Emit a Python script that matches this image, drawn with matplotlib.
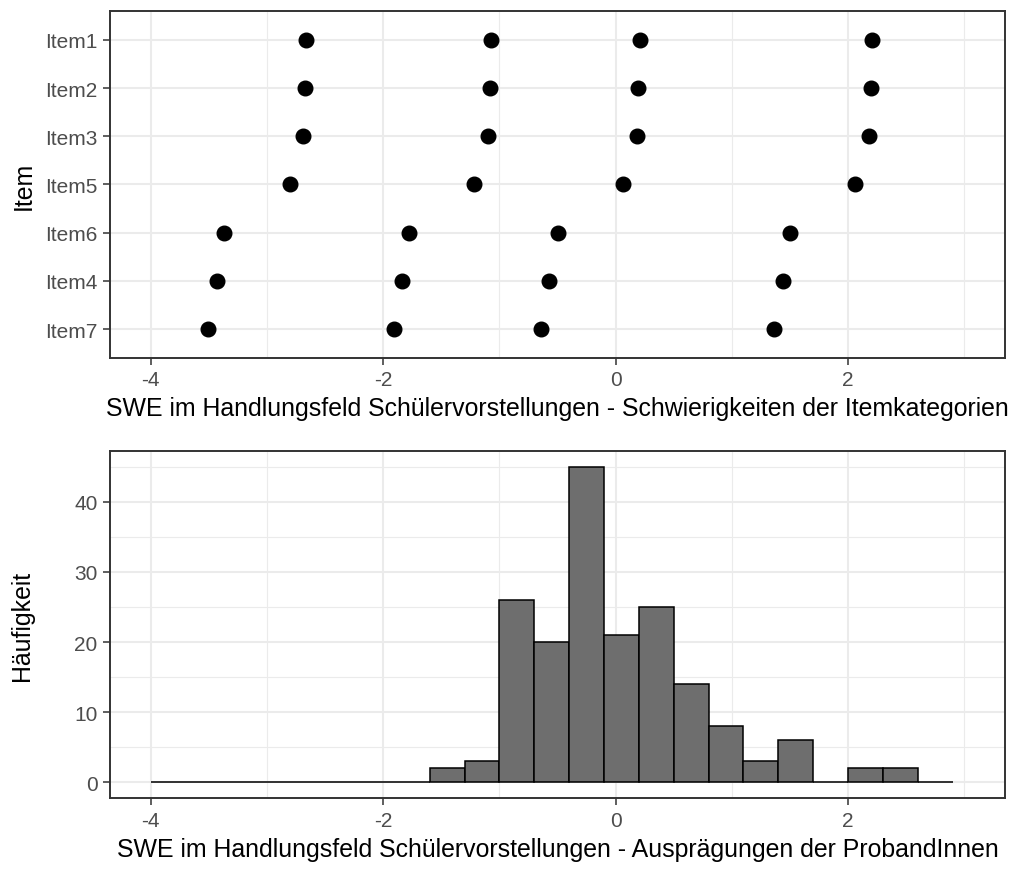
import numpy as np
import matplotlib
matplotlib.use("Agg")
import matplotlib.pyplot as plt

plt.rcParams['font.family'] = ['Liberation Sans', 'DejaVu Sans']

# Schwierigkeiten der Itemkategorien (Schwellen 1-4), von oben nach unten
items = ["Item1", "Item2", "Item3", "Item5", "Item6", "Item4", "Item7"]
thr1 = [-2.66, -2.67, -2.69, -2.80, -3.37, -3.43, -3.51]
thr2 = [-1.07, -1.08, -1.10, -1.22, -1.78, -1.84, -1.91]
thr3 = [0.21, 0.19, 0.18, 0.06, -0.50, -0.57, -0.64]
thr4 = [2.21, 2.20, 2.18, 2.06, 1.50, 1.44, 1.36]

# Histogramm der Personenparameter (Binbreite 0.3, ab -4)
bin_left = [-4.0, -3.7, -3.4, -3.1, -2.8, -2.5, -2.2, -1.9, -1.6, -1.3, -1.0, -0.7,
            -0.4, -0.1, 0.2, 0.5, 0.8, 1.1, 1.4, 1.7, 2.0, 2.3, 2.6]
counts = [0, 0, 0, 0, 0, 0, 0, 0, 2, 3, 26, 20, 45, 21, 25, 14, 8, 3, 6, 0, 2, 2, 0]
bin_width = 0.3

grid_col = '#ebebeb'
txt_col = '#4d4d4d'
border_col = '#333333'


def style_axes(ax):
    ax.set_facecolor('white')
    for s in ax.spines.values():
        s.set_color(border_col)
        s.set_linewidth(1.4)
    ax.tick_params(axis='both', colors=border_col, labelcolor=txt_col,
                   labelsize=15, length=5, width=1.1, pad=4)
    ax.set_axisbelow(True)


fig = plt.figure(figsize=(10.17, 8.7), dpi=100)

# --- oberes Panel: Itemschwellen ---
ax1 = fig.add_axes([0.1082, 0.5874, 0.880, 0.3989])
style_axes(ax1)
ypos = np.arange(len(items))[::-1] + 1
for t in (thr1, thr2, thr3, thr4):
    ax1.plot(t, ypos, 'o', color='black', markersize=10.5, linestyle='none', zorder=3)
ax1.set_yticks(ypos)
ax1.set_yticklabels(items)
ax1.set_ylim(0.4, len(items) + 0.6)
ax1.set_xlim(-4.35, 3.35)
ax1.set_xticks([-4, -2, 0, 2])
ax1.set_xticklabels(['-4', '-2', '0', '2'])
ax1.set_xticks([-3, -1, 1, 3], minor=True)
ax1.tick_params(axis='x', which='minor', length=0)
ax1.grid(True, which='major', color=grid_col, linewidth=1.5)
ax1.grid(True, which='minor', axis='x', color=grid_col, linewidth=0.8)
ax1.set_xlabel("SWE im Handlungsfeld Schülervorstellungen - Schwierigkeiten der Itemkategorien",
               fontsize=17.9, color='black', labelpad=5)
ax1.set_ylabel("Item", fontsize=17.9, color='black', labelpad=7)

# --- unteres Panel: Histogramm ---
ax2 = fig.add_axes([0.1082, 0.0813, 0.880, 0.3992])
style_axes(ax2)
ax2.bar(bin_left, counts, width=bin_width, align='edge', color='#6e6e6e',
        edgecolor='black', linewidth=1.1, zorder=3)
ax2.set_xlim(-4.35, 3.35)
ax2.set_ylim(-2.25, 47.25)
ax2.set_xticks([-4, -2, 0, 2])
ax2.set_xticklabels(['-4', '-2', '0', '2'])
ax2.set_xticks([-3, -1, 1, 3], minor=True)
ax2.set_yticks([0, 10, 20, 30, 40])
ax2.set_yticks([5, 15, 25, 35, 45], minor=True)
ax2.tick_params(axis='both', which='minor', length=0)
ax2.grid(True, which='major', color=grid_col, linewidth=1.5)
ax2.grid(True, which='minor', color=grid_col, linewidth=0.8)
ax2.set_xlabel("SWE im Handlungsfeld Schülervorstellungen - Ausprägungen der ProbandInnen",
               fontsize=17.9, color='black', labelpad=5)
ax2.set_ylabel("Häufigkeit", fontsize=17.9, color='black', labelpad=29)

fig.savefig("out.png", dpi=100, facecolor='white')
